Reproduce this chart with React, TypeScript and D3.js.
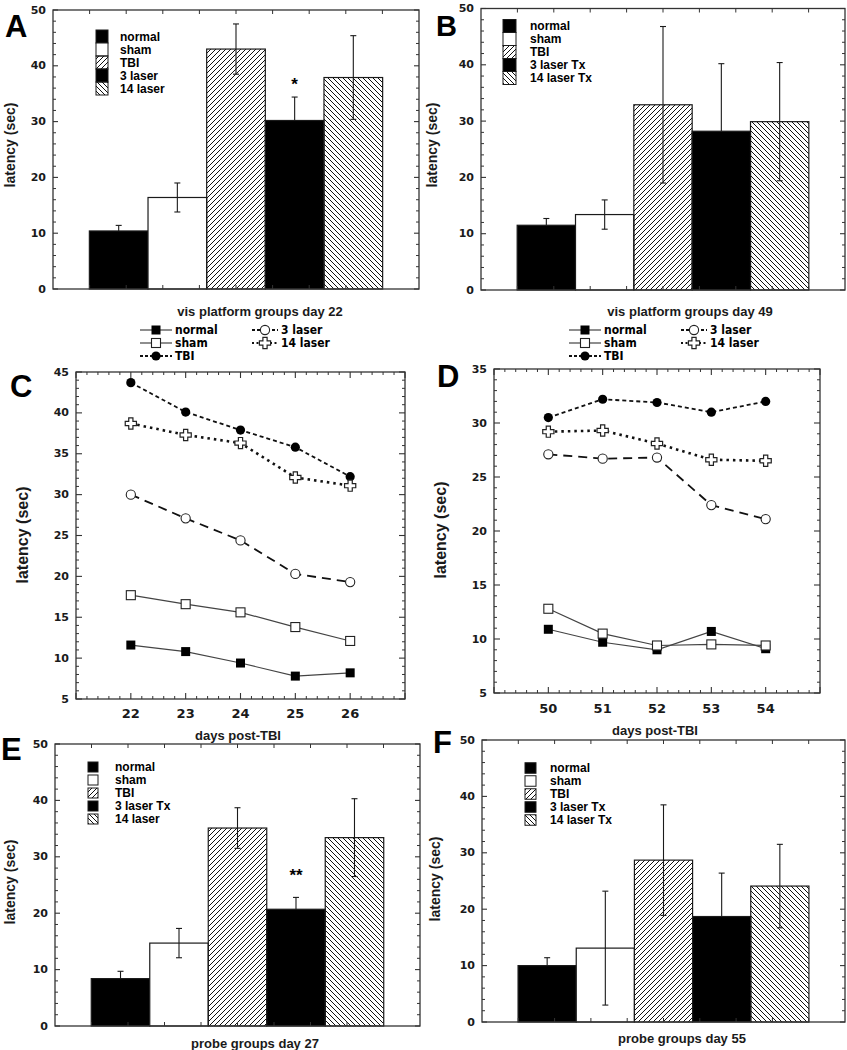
import React from 'react';
import * as d3 from 'd3';

// ---------- data ----------
const groups = ['normal', 'sham', 'TBI', '3 laser', '14 laser'];
const groupFills = ['#000', '#fff', 'url(#hatchF)', '#000', 'url(#hatchB)'];

const legendA = ['normal', 'sham', 'TBI', '3 laser', '14 laser'];
const legendB = ['normal', 'sham', 'TBI', '3 laser Tx', '14 laser Tx'];
const legendE = ['normal', 'sham', 'TBI', '3 laser Tx', '14 laser'];
const legendF = ['normal', 'sham', 'TBI', '3 laser Tx', '14 laser Tx'];

const meansA = [10.4, 16.4, 43.0, 30.2, 37.9];
const errA = [1.0, 2.6, 4.5, 4.2, 7.5];
const meansB = [11.5, 13.4, 32.9, 28.2, 29.9];
const errB = [1.2, 2.6, 13.9, 12.0, 10.5];
const meansE = [8.4, 14.7, 35.1, 20.7, 33.4];
const errE = [1.3, 2.6, 3.6, 2.1, 6.9];
const meansF = [10.0, 13.1, 28.7, 18.7, 24.1];
const errF = [1.4, 10.1, 9.8, 7.7, 7.4];

const barTicks = [0, 10, 20, 30, 40, 50];

const daysC = [22, 23, 24, 25, 26];
const normalC = [11.6, 10.8, 9.4, 7.8, 8.2];
const shamC = [17.7, 16.6, 15.6, 13.8, 12.1];
const tbiC = [43.7, 40.1, 37.9, 35.8, 32.2];
const laser3C = [30.0, 27.1, 24.4, 20.3, 19.3];
const laser14C = [38.7, 37.3, 36.3, 32.1, 31.1];
const yTicksC = [5, 10, 15, 20, 25, 30, 35, 40, 45];

const daysD = [50, 51, 52, 53, 54];
const normalD = [10.9, 9.7, 9.0, 10.7, 9.1];
const shamD = [12.8, 10.5, 9.4, 9.5, 9.4];
const tbiD = [30.5, 32.2, 31.9, 31.0, 32.0];
const laser3D = [27.1, 26.7, 26.8, 22.4, 21.1];
const laser14D = [29.2, 29.3, 28.1, 26.6, 26.5];
const yTicksD = [5, 10, 15, 20, 25, 30, 35];

const lineNames = ['normal', 'sham', 'TBI', '3 laser', '14 laser'];

// ---------- styles ----------
const SANS = "'Liberation Sans', Arial, Helvetica, sans-serif";
const NUM = "'DejaVu Sans', Verdana, sans-serif";
const NARROW = "'Liberation Sans Narrow', 'DejaVu Sans Condensed', sans-serif";
const INK = '#1a1a1a';

const lineStyles: Record<string, any> = {
  normal: { stroke: '#444', width: 1.2, dash: null, marker: 'fsq' },
  sham: { stroke: '#444', width: 1.2, dash: null, marker: 'osq' },
  TBI: { stroke: '#111', width: 1.8, dash: '4,3', marker: 'fci' },
  '3 laser': { stroke: '#111', width: 1.8, dash: '9,6', marker: 'oci' },
  '14 laser': { stroke: '#111', width: 2.6, dash: '2.5,4', marker: 'cross' },
};

function Marker({ type, x, y }: { type: string; x: number; y: number }) {
  if (type === 'fsq') return <rect x={x - 4.5} y={y - 4.5} width={9} height={9} fill="#000" />;
  if (type === 'osq')
    return <rect x={x - 4.5} y={y - 4.5} width={9} height={9} fill="#fff" stroke="#222" strokeWidth={1.1} />;
  if (type === 'fci') return <circle cx={x} cy={y} r={4.6} fill="#000" />;
  if (type === 'oci') return <circle cx={x} cy={y} r={4.6} fill="#fff" stroke="#222" strokeWidth={1.1} />;
  const a = 2.1, b = 5.6;
  const d = `M${-a},${-b}H${a}V${-a}H${b}V${a}H${a}V${b}H${-a}V${a}H${-b}V${-a}H${-a}Z`;
  return <path d={d} transform={`translate(${x},${y})`} fill="#fff" stroke="#222" strokeWidth={1.2} />;
}

function PanelLetter({ t, x, y, size = 31 }: { t: string; x: number; y: number; size?: number }) {
  return (
    <text x={x} y={y} fontFamily={SANS} fontWeight="bold" fontSize={size} fill="#000">
      {t}
    </text>
  );
}

// ---------- bar panel ----------
function BarPanel(p: any) {
  const { x0, x1, y0, y1, means, errs, labels } = p;
  const y = d3.scaleLinear().domain([0, 50]).range([y1, y0]);
  const x = d3.scaleBand().domain(groups).range([x0, x1]).paddingInner(0).paddingOuter(0.62);
  const minors = d3.range(0, 51, 2).filter((v) => v % 10 !== 0);
  const hTicks = d3.range(1, 10).map((i) => x0 + ((x1 - x0) * i) / 10);
  return (
    <g>
      {/* bars */}
      {groups.map((g, i) => (
        <rect
          key={g}
          x={x(g)}
          y={y(means[i])}
          width={x.bandwidth()}
          height={y(0) - y(means[i])}
          fill={groupFills[i]}
          stroke={INK}
          strokeWidth={1.2}
        />
      ))}
      {/* error bars (lower half hidden inside solid black bars) */}
      {groups.map((g, i) => {
        const cx = (x(g) as number) + x.bandwidth() / 2;
        const top = y(means[i]);
        const hi = y(means[i] + errs[i]);
        const lo = y(Math.max(0, means[i] - errs[i]));
        const solid = groupFills[i] === '#000';
        return (
          <g key={g} stroke={INK} strokeWidth={1.1}>
            <line x1={cx} x2={cx} y1={hi} y2={solid ? top : lo} />
            <line x1={cx - 3} x2={cx + 3} y1={hi} y2={hi} />
            {!solid && <line x1={cx - 3} x2={cx + 3} y1={lo} y2={lo} />}
          </g>
        );
      })}
      {p.star && (
        <text
          x={(x(groups[p.star.index]) as number) + x.bandwidth() / 2}
          y={y(means[p.star.index] + errs[p.star.index]) - p.star.dy}
          textAnchor="middle"
          dominantBaseline="central"
          fontFamily={SANS}
          fontWeight="bold"
          fontSize={17}
        >
          {p.star.text}
        </text>
      )}
      {/* frame */}
      <rect x={x0} y={y0} width={x1 - x0} height={y1 - y0} fill="none" stroke="#333" strokeWidth={1.3} />
      {barTicks.map((v) => (
        <g key={v} stroke="#333" strokeWidth={1.1}>
          <line x1={x0} x2={x0 + 5} y1={y(v)} y2={y(v)} />
          <line x1={x1} x2={x1 - 5} y1={y(v)} y2={y(v)} />
        </g>
      ))}
      {minors.map((v) => (
        <g key={v} stroke="#333" strokeWidth={1}>
          <line x1={x0} x2={x0 + 3} y1={y(v)} y2={y(v)} />
          <line x1={x1} x2={x1 - 3} y1={y(v)} y2={y(v)} />
        </g>
      ))}
      {hTicks.map((t, i) => (
        <g key={i} stroke="#333" strokeWidth={1}>
          <line x1={t} x2={t} y1={y0} y2={y0 + 4} />
          <line x1={t} x2={t} y1={y1} y2={y1 - 4} />
        </g>
      ))}
      {barTicks.map((v) => (
        <text
          key={v}
          x={x0 - 7}
          y={y(v)}
          textAnchor="end"
          dominantBaseline="central"
          fontFamily={NUM}
          fontWeight="bold"
          fontSize={11}
          fill={INK}
        >
          {v}
        </text>
      ))}
      {/* legend */}
      {labels.map((l: string, i: number) => {
        const cy = p.legY + i * p.legStep;
        return (
          <g key={l}>
            <rect
              x={p.legX}
              y={cy - p.legH / 2}
              width={p.legW}
              height={p.legH}
              fill={groupFills[i]}
              stroke={INK}
              strokeWidth={1}
            />
            <text
              x={p.legTextX}
              y={cy}
              dominantBaseline="central"
              fontFamily={SANS}
              fontWeight="bold"
              fontSize={12}
              fill="#000"
            >
              {l}
            </text>
          </g>
        );
      })}
      <text
        x={p.xlx}
        y={p.xly}
        textAnchor="middle"
        dominantBaseline="central"
        fontFamily={SANS}
        fontWeight="bold"
        fontSize={13}
        fill={INK}
      >
        {p.xlabel}
      </text>
      <text
        transform={`translate(${p.ylx},${p.yly}) rotate(-90)`}
        textAnchor="middle"
        dominantBaseline="central"
        fontFamily={SANS}
        fontWeight="bold"
        fontSize={14}
        fill={INK}
      >
        latency (sec)
      </text>
    </g>
  );
}

// ---------- line panel ----------
function LinePanel(p: any) {
  const { x0, x1, y0, y1, xd, yd, days, series, yTicks } = p;
  const x = d3.scaleLinear().domain(xd).range([x0, x1]);
  const y = d3.scaleLinear().domain(yd).range([y1, y0]);
  const yMin = d3.range(yd[0], yd[1] + 0.001, 1).filter((v) => v % 5 !== 0);
  const xMaj = d3.range(xd[0], xd[1] + 0.001, 1);
  const xMin = d3.range(xd[0], xd[1] + 0.001, 0.2).filter((v) => Math.abs(v - Math.round(v)) > 0.01);
  const line = d3
    .line<number>()
    .x((_, i) => x(days[i]))
    .y((v) => y(v));
  return (
    <g>
      <rect x={x0} y={y0} width={x1 - x0} height={y1 - y0} fill="none" stroke="#333" strokeWidth={1.3} />
      {yTicks.map((v: number) => (
        <g key={v} stroke="#333" strokeWidth={1.1}>
          <line x1={x0} x2={x0 + 6} y1={y(v)} y2={y(v)} />
          <line x1={x1} x2={x1 - 6} y1={y(v)} y2={y(v)} />
        </g>
      ))}
      {yMin.map((v: number) => (
        <g key={v} stroke="#333" strokeWidth={1}>
          <line x1={x0} x2={x0 + 3} y1={y(v)} y2={y(v)} />
          <line x1={x1} x2={x1 - 3} y1={y(v)} y2={y(v)} />
        </g>
      ))}
      {xMaj.map((v: number) => (
        <g key={v} stroke="#333" strokeWidth={1.1}>
          <line x1={x(v)} x2={x(v)} y1={y0} y2={y0 + 6} />
          <line x1={x(v)} x2={x(v)} y1={y1} y2={y1 - 6} />
        </g>
      ))}
      {xMin.map((v: number, i: number) => (
        <g key={i} stroke="#333" strokeWidth={1}>
          <line x1={x(v)} x2={x(v)} y1={y0} y2={y0 + 3} />
          <line x1={x(v)} x2={x(v)} y1={y1} y2={y1 - 3} />
        </g>
      ))}
      {yTicks.map((v: number) => (
        <text
          key={v}
          x={x0 - 7}
          y={y(v)}
          textAnchor="end"
          dominantBaseline="central"
          fontFamily={NUM}
          fontWeight="bold"
          fontSize={11}
          fill={INK}
        >
          {v}
        </text>
      ))}
      {days.map((d: number) => (
        <text
          key={d}
          x={x(d)}
          y={p.xtY}
          textAnchor="middle"
          dominantBaseline="central"
          fontFamily={NUM}
          fontWeight="bold"
          fontSize={13}
          fill={INK}
        >
          {d}
        </text>
      ))}
      {lineNames.map((n, k) => {
        const s = lineStyles[n];
        return (
          <path
            key={n}
            d={line(series[k]) as string}
            fill="none"
            stroke={s.stroke}
            strokeWidth={s.width}
            strokeDasharray={s.dash || undefined}
          />
        );
      })}
      {lineNames.map((n, k) =>
        series[k].map((v: number, i: number) => (
          <Marker key={n + i} type={lineStyles[n].marker} x={x(days[i])} y={y(v)} />
        ))
      )}
      <text
        x={p.xlx}
        y={p.xly}
        textAnchor="middle"
        dominantBaseline="central"
        fontFamily={SANS}
        fontWeight="bold"
        fontSize={13}
        fill={INK}
      >
        days post-TBI
      </text>
      <text
        transform={`translate(${p.ylx},${p.yly}) rotate(-90)`}
        textAnchor="middle"
        dominantBaseline="central"
        fontFamily={SANS}
        fontWeight="bold"
        fontSize={16}
        fill={INK}
      >
        latency (sec)
      </text>
    </g>
  );
}

function LineLegend({ x, y }: { x: number; y: number }) {
  const rows = [
    { n: 'normal', col: 0, row: 0 },
    { n: 'sham', col: 0, row: 1 },
    { n: 'TBI', col: 0, row: 2 },
    { n: '3 laser', col: 1, row: 0 },
    { n: '14 laser', col: 1, row: 1 },
  ];
  return (
    <g>
      {rows.map((r) => {
        const s = lineStyles[r.n];
        const lx = x + r.col * 112;
        const ly = y + r.row * 13;
        const len = r.col === 0 ? 32 : 26;
        return (
          <g key={r.n}>
            <line
              x1={lx}
              x2={lx + len}
              y1={ly}
              y2={ly}
              stroke={s.stroke}
              strokeWidth={Math.min(s.width, 2)}
              strokeDasharray={s.dash ? (r.n === '14 laser' ? '2,2.5' : '3,2') : undefined}
            />
            <Marker type={s.marker} x={lx + len / 2} y={ly} />
            <text
              x={lx + len + 3}
              y={ly}
              dominantBaseline="central"
              fontFamily={NARROW}
              fontWeight="bold"
              fontSize={12}
              fill="#000"
            >
              {r.n}
            </text>
          </g>
        );
      })}
    </g>
  );
}

export default function App() {
  return (
    <svg
      width={847}
      height={1050}
      viewBox="0 0 847 1050"
      style={{ position: 'absolute', left: 0, top: 0, display: 'block', background: '#fff' }}
    >
      <defs>
        <pattern id="hatchF" patternUnits="userSpaceOnUse" width="5" height="5">
          <path d="M-1,1 L1,-1 M0,5 L5,0 M4,6 L6,4" stroke="#111" strokeWidth="1" />
        </pattern>
        <pattern id="hatchB" patternUnits="userSpaceOnUse" width="5" height="5">
          <path d="M-1,4 L1,6 M0,0 L5,5 M4,-1 L6,1" stroke="#111" strokeWidth="1" />
        </pattern>
      </defs>
      <rect x={0} y={0} width={847} height={1050} fill="#fff" />

      <PanelLetter t="A" x={5} y={37} />
      <BarPanel
        x0={53} x1={419} y0={10} y1={289}
        means={meansA} errs={errA} labels={legendA}
        legX={96} legY={36.5} legStep={13} legW={12} legH={13} legTextX={120}
        xlabel="vis platform groups day 22" xlx={260} xly={311}
        ylx={10} yly={145}
        star={{ index: 3, text: '*', dy: 13 }}
      />

      <PanelLetter t="B" x={436} y={36} size={29} />
      <BarPanel
        x0={481} x1={845} y0={8.5} y1={290}
        means={meansB} errs={errB} labels={legendB}
        legX={503} legY={26} legStep={13} legW={13} legH={13} legTextX={530}
        xlabel="vis platform groups day 49" xlx={690} xly={311}
        ylx={432} yly={145}
      />

      <LineLegend x={140} y={330} />
      <LineLegend x={569} y={330} />

      <PanelLetter t="C" x={10} y={397} />
      <LinePanel
        x0={76} x1={405} y0={372} y1={699}
        xd={[21, 27]} yd={[5, 45]} days={daysC}
        series={[normalC, shamC, tbiC, laser3C, laser14C]}
        yTicks={yTicksC} xtY={713}
        xlx={238} xly={735} ylx={22} yly={535}
      />

      <PanelLetter t="D" x={437} y={387} />
      <LinePanel
        x0={494} x1={820} y0={369} y1={693}
        xd={[49, 55]} yd={[5, 35]} days={daysD}
        series={[normalD, shamD, tbiD, laser3D, laser14D]}
        yTicks={yTicksD} xtY={708}
        xlx={655} xly={730} ylx={440} yly={530}
      />

      <PanelLetter t="E" x={1} y={760} />
      <BarPanel
        x0={55} x1={420} y0={744} y1={1026}
        means={meansE} errs={errE} labels={legendE}
        legX={88} legY={767} legStep={13} legW={10} legH={10} legTextX={115}
        xlabel="probe groups day 27" xlx={255} xly={1043}
        ylx={10} yly={882}
        star={{ index: 3, text: '**', dy: 22 }}
      />

      <PanelLetter t="F" x={433} y={753} />
      <BarPanel
        x0={482} x1={845} y0={740} y1={1022}
        means={meansF} errs={errF} labels={legendF}
        legX={525} legY={768} legStep={13} legW={11} legH={10.5} legTextX={550}
        xlabel="probe groups day 55" xlx={682} xly={1038}
        ylx={435} yly={879}
      />
    </svg>
  );
}
